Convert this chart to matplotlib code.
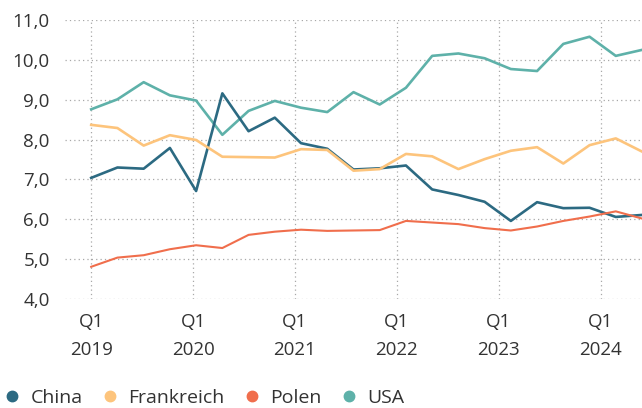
import matplotlib.pyplot as plt
from matplotlib.lines import Line2D

plt.rcParams['font.family'] = ['Open Sans', 'DejaVu Sans']

# quarterly values, Q1 2019 .. Q2 2024
china = [7.04, 7.30, 7.27, 7.79, 6.71, 9.16, 8.21, 8.55, 7.91, 7.77, 7.25,
         7.28, 7.35, 6.75, 6.61, 6.44, 5.96, 6.43, 6.28, 6.29, 6.06, 6.11]
frankreich = [8.37, 8.29, 7.85, 8.11, 7.99, 7.57, 7.56, 7.55, 7.76, 7.74, 7.22,
              7.26, 7.64, 7.58, 7.26, 7.51, 7.72, 7.81, 7.40, 7.86, 8.03, 7.70]
polen = [4.81, 5.04, 5.10, 5.25, 5.35, 5.28, 5.61, 5.69, 5.74, 5.71, 5.72,
         5.73, 5.96, 5.92, 5.88, 5.78, 5.72, 5.82, 5.96, 6.07, 6.20, 6.02]
usa = [8.76, 9.01, 9.44, 9.11, 8.98, 8.12, 8.72, 8.97, 8.80, 8.69, 9.19,
       8.88, 9.30, 10.10, 10.16, 10.04, 9.77, 9.72, 10.40, 10.58, 10.10, 10.25]

years = ["2019", "2020", "2021", "2022", "2023", "2024"]
names = ["China", "Frankreich", "Polen", "USA"]
colors = ["#2c6a82", "#fdc47c", "#f06e4c", "#5eb1a9"]

x = list(range(len(china)))

fig = plt.figure(figsize=(6.42, 4.08), dpi=100)
ax = fig.add_axes([0.1012, 0.267, 0.8988, 0.684])

ax.plot(x, usa, color=colors[3], lw=1.9, zorder=3)
ax.plot(x, china, color=colors[0], lw=1.9, zorder=4)
ax.plot(x, frankreich, color=colors[1], lw=1.9, zorder=5)
ax.plot(x, polen, color=colors[2], lw=1.5, zorder=6)

ax.set_xlim(-1, 21)
ax.set_ylim(4, 11)

yticks = list(range(4, 12))
ax.set_yticks(yticks)
ax.set_yticklabels([f"{v},0" for v in yticks])

tick_pos = [k * 3.885 for k in range(len(years))]
ax.set_xticks(tick_pos)
ax.set_xticklabels([f"Q1\n{y}" for y in years], linespacing=1.75)

ax.grid(True, color="#a8a8a8", linestyle=(0, (1, 2.5)), linewidth=0.9)
ax.set_axisbelow(True)
for s in ax.spines.values():
    s.set_visible(False)
ax.tick_params(length=0, labelsize=13.5, colors="#333333")
ax.tick_params(axis="y", pad=11)
ax.tick_params(axis="x", pad=10)

handles = [Line2D([], [], marker="o", linestyle="none", markersize=7.5,
                  markerfacecolor=c, markeredgecolor=c) for c in colors]
fig.legend(handles, names, loc="center left", bbox_to_anchor=(0.007, 0.024),
           ncol=4, frameon=False, fontsize=14, handlelength=0.8,
           handletextpad=0.55, columnspacing=1.0, borderpad=0,
           borderaxespad=0, labelcolor="#333333")

fig.savefig("out.png", dpi=100)
